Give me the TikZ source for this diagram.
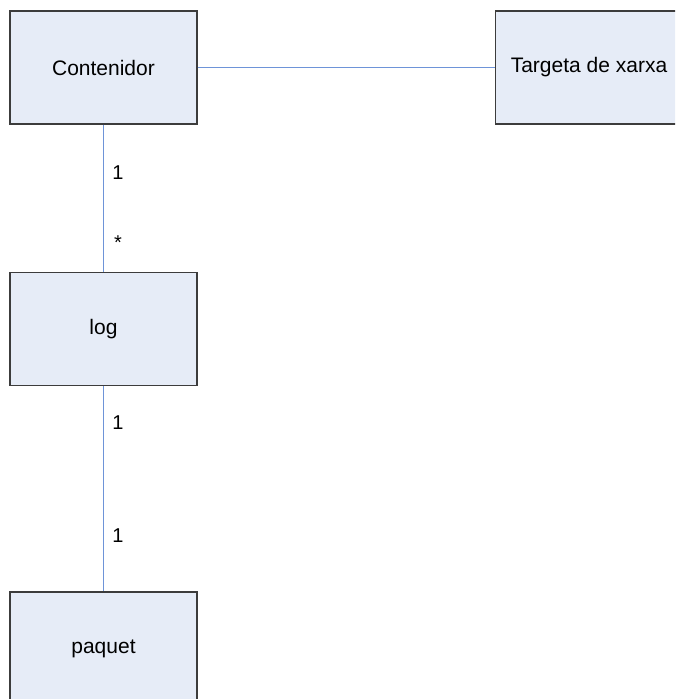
\documentclass[tikz,border=0pt]{standalone}
\usepackage{fontspec}
\setmainfont{Liberation Sans}
\definecolor{boxfill}{HTML}{E6ECF7}
\definecolor{boxline}{HTML}{3C3C3C}
\definecolor{linkline}{HTML}{6E94D8}
\begin{document}
\begin{tikzpicture}[x=1pt,y=-1pt,
  classbox/.style={draw=boxline, line width=1.4pt, fill=boxfill, minimum width=187pt, minimum height=113pt, inner sep=0pt, font=\fontsize{21}{25}\selectfont},
  link/.style={draw=linkline, line width=1.4pt},
  mult/.style={anchor=base, inner sep=0pt, font=\fontsize{20}{24}\selectfont}]
  \useasboundingbox (0,0) rectangle (675,699);
  \begin{scope}
  \clip (0,0) rectangle (675,699);
  % class boxes
  \node[classbox] (cont) at (103.5,67.5) {Contenidor};
  \node[classbox] (net) at (589,67.5) {Targeta de xarxa};
  \node[classbox] (log) at (103.5,329) {log};
  \node[classbox] (pkt) at (103.5,648.5) {paquet};
  % associations
  \draw[link] (cont.east) -- (net.west);
  \draw[link] (cont.south) -- (log.north);
  \draw[link] (log.south) -- (pkt.north);
  \end{scope}
  % multiplicities
  \node[mult] (m1) at (118,179) {1};
  \node[mult] (m2) at (118,249) {*};
  \node[mult] (m3) at (118,429) {1};
  \node[mult] (m4) at (118,542) {1};
\end{tikzpicture}
\end{document}
